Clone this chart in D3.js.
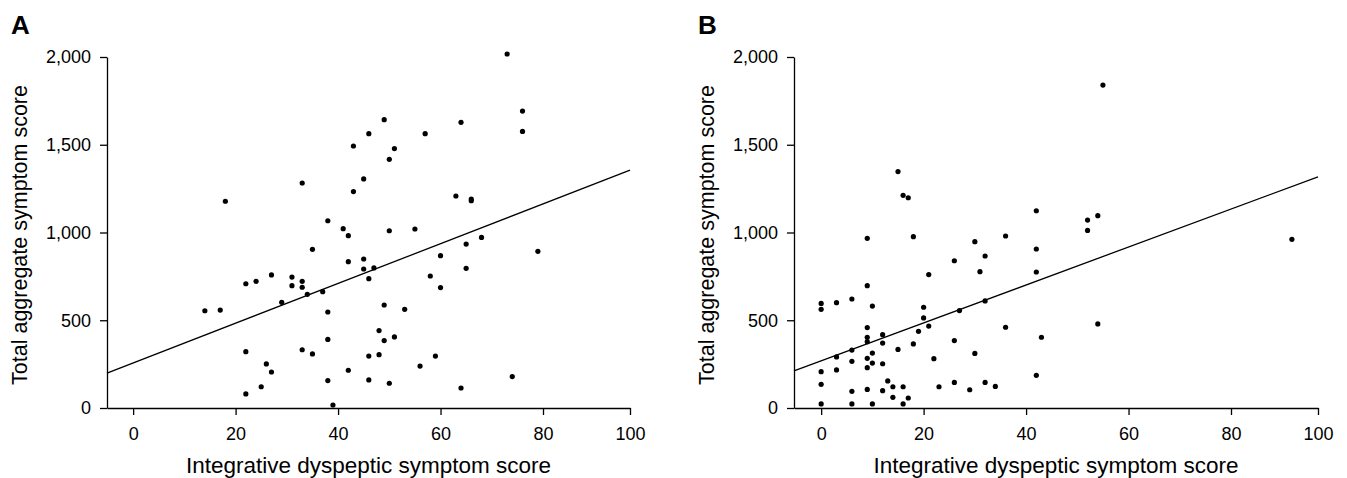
<!DOCTYPE html>
<html>
<head>
<meta charset="utf-8">
<script src="https://cdn.jsdelivr.net/npm/d3@7"></script>
<style>
  body { margin: 0; background: #fff; }
  text { font-family: "Liberation Sans", Arial, sans-serif; fill: #000; }
</style>
</head>
<body>
<div id="chart"></div>
<script>
var xTicks = [0, 20, 40, 60, 80, 100];
var yTicks = [0, 500, 1000, 1500, 2000];

// panel A : integrative dyspeptic symptom score vs total aggregate symptom score
var idssA = [33, 18, 38, 35, 27, 22, 24, 31, 31, 33, 33, 34, 37, 29, 14, 17, 38, 38, 22, 33,
    35, 26, 27, 38, 25, 22, 39,
    49, 46, 57, 64, 43, 51, 50, 45, 43, 63, 66, 66, 41, 42, 50, 55, 68, 65, 42, 45,
    45, 47, 46, 60, 58, 65, 60, 49, 53, 48, 49, 51, 46, 48, 59, 42, 56, 46, 50, 64,
    79, 74, 73, 76, 76];
var totalA = [1282, 1178, 1067, 904, 758, 708, 722, 746, 697, 722, 688, 648, 663, 602, 554, 558, 547, 391, 321, 332,
    308, 251, 205, 156, 121, 80, 17,
    1643, 1563, 1563, 1628, 1493, 1478, 1417, 1305, 1233, 1208, 1191, 1181, 1022, 982, 1010, 1020, 972, 934, 834, 849,
    792, 798, 737, 868, 752, 796, 686, 587, 562, 441, 384, 405, 296, 304, 296, 215, 239, 160, 141, 114,
    893, 179, 2017, 1692, 1576];
var fitA = { b0: 255, b1: 11.0 };

// panel B
var idssB = [9, 9, 0, 0, 3, 6, 10, 9, 9, 9, 12, 12, 6, 15, 3, 9, 10, 6, 10, 12,
    9, 0, 3, 0, 13, 14, 16, 6, 9, 12, 14, 0, 6, 10, 16,
    15, 16, 17, 18, 30, 36, 26, 32, 31, 21, 20, 20, 27, 32, 21, 19, 18, 26, 36, 30,
    22, 23, 17, 26, 29, 32, 34,
    42, 42, 42, 42, 43, 52, 52, 54, 54, 55, 94];
var totalB = [967, 697, 596, 562, 600, 621, 581, 458, 403, 378, 418, 370, 330, 334, 291, 283, 313, 266, 256, 252,
    230, 207, 217, 135, 154, 121, 121, 95, 106, 99, 61, 23, 23, 23, 23,
    1347, 1212, 1198, 976, 948, 980, 839, 866, 777, 760, 574, 513, 555, 610, 467, 437, 365, 384, 460, 311,
    281, 121, 57, 146, 104, 146, 123,
    1124, 906, 775, 186, 403, 1071, 1012, 1096, 479, 1840, 961];
var fitB = { b0: 267, b1: 10.5 };

var W = 1347, H = 478;
var svg = d3.select("#chart").append("svg").attr("width", W).attr("height", H);

var y = d3.scaleLinear().domain([0, 2000]).range([408, 57]);

function drawPanel(px0, px80, px100, xmin, idss, total, fit, label) {
    var g = svg.append("g");

    // the printed x axis is uneven: the step 80 -> 100 is shorter than the others
    var x = d3.scaleLinear().domain([xmin, 80, 100]).range([px0, px80, px100]);

    var yAxis = g.append("g")
        .attr("transform", "translate(" + px0 + ",0)")
        .call(d3.axisLeft(y).tickValues(yTicks).tickSize(7).tickPadding(9)
            .tickSizeOuter(0).tickFormat(d3.format(",")));
    var xAxis = g.append("g")
        .attr("transform", "translate(0," + y(0) + ")")
        .call(d3.axisBottom(x).tickValues(xTicks).tickSize(7).tickPadding(12).tickSizeOuter(0));

    g.selectAll(".domain, .tick line").attr("stroke", "#000").attr("stroke-width", 1.3);
    g.selectAll(".tick text").style("font-size", "18px").attr("fill", "#000");

    var pts = idss.map(function (d, i) { return { x: d, y: total[i] }; });

    var lineFunction = d3.line()
        .x(function (d) { return x(d.x); })
        .y(function (d) { return y(d.y); });
    var ends = [{ x: xmin, y: fit.b0 + fit.b1 * xmin }, { x: 100, y: fit.b0 + fit.b1 * 100 }];
    g.append("path")
        .attr("d", lineFunction(ends))
        .attr("stroke", "#000")
        .attr("stroke-width", 1.3)
        .attr("fill", "none");

    g.append("g").selectAll("circle").data(pts).enter().append("circle")
        .attr("cx", function (d) { return x(d.x); })
        .attr("cy", function (d) { return y(d.y); })
        .attr("r", 2.6)
        .attr("fill", "#000");

    g.append("text")
        .attr("x", (px0 + px100) / 2)
        .attr("y", 473)
        .attr("text-anchor", "middle")
        .style("font-size", "22.5px")
        .text("Integrative dyspeptic symptom score");

    g.append("text")
        .attr("transform", "translate(" + (px0 - 80) + ",235) rotate(-90)")
        .attr("text-anchor", "middle")
        .style("font-size", "21.5px")
        .text("Total aggregate symptom score");

    g.append("text")
        .attr("x", px0 - 96)
        .attr("y", 34)
        .style("font-size", "26px")
        .style("font-weight", "bold")
        .text(label);
}

drawPanel(107, 543, 630, -5.1, idssA, totalA, fitA, "A");
drawPanel(794, 1231, 1318, -5.3, idssB, totalB, fitB, "B");
</script>
</body>
</html>
